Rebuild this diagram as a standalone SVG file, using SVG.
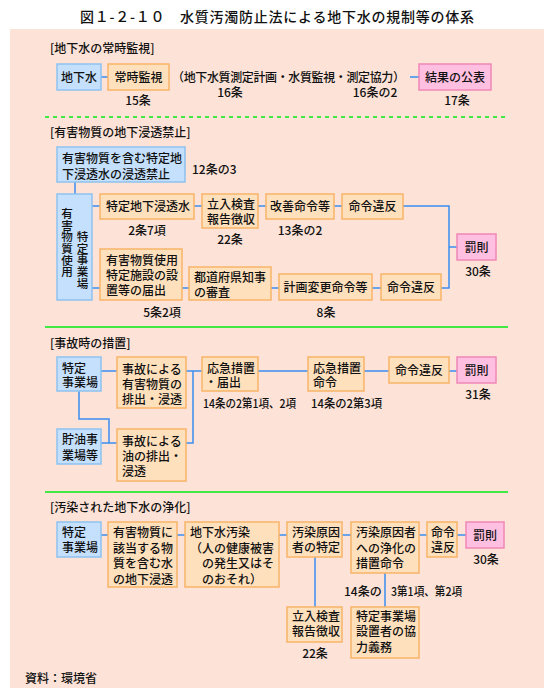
<svg xmlns="http://www.w3.org/2000/svg" width="554" height="699" viewBox="0 0 554 699">
<style>
text{font-family:"Noto Sans CJK JP","Noto Sans CJK SC",sans-serif;font-size:12px;fill:#111;font-weight:500}
.t{font-size:14px}
.m{text-anchor:middle}
.v{writing-mode:vertical-rl;font-size:11.6px}
.b{fill:#c4e0fc;stroke:#8ec2f0;stroke-width:1.5}
.o{fill:#ffe0bc;stroke:#f8b468;stroke-width:1.5}
.p{fill:#ffbfe0;stroke:#f088b8;stroke-width:1.5}
.c{stroke:#3a8ef0;stroke-width:1.5;fill:none}
.g{stroke:#44e844;stroke-width:2;fill:none}
</style>
<rect x="0" y="0" width="554" height="699" fill="#ffffff"/>
<rect x="10" y="29" width="534" height="659" fill="#fde3d7"/>
<text class="t m" x="277" y="22" textLength="394" lengthAdjust="spacing">図１-２-１０　水質汚濁防止法による地下水の規制等の体系</text>

<g id="separators">
<line class="g" x1="45" y1="117" x2="505" y2="117" stroke-dasharray="4,4" stroke-width="1.5"/>
<line class="g" x1="45" y1="327" x2="508" y2="327"/>
<line class="g" x1="45" y1="492" x2="508" y2="492"/>
</g>

<g id="connectors">
<path class="c" d="M101,77H108M410,77H419"/>
<path class="c" d="M75,182V194M92,206H100M92,288H100M194,206H202M258,206H266M334,206H342M403,206H449V288H441M449,247H457M182,288H189M271,288H279M372,288H381"/>
<path class="c" d="M101,371H117M79,391V419H109V443M101,443H117M186,371H202M186,443H193V371M258,371H308M364,371H389M449,371H457"/>
<path class="c" d="M101,535H108M177,535H185M279,535H287M315,557V607M342,535H351M385,573V607M419,535H427M457,535H466"/>
</g>

<g id="labels">
<text x="50" y="52.5">[地下水の常時監視]</text>
<text x="172" y="81.5" textLength="233" lengthAdjust="spacing">（地下水質測定計画・水質監視・測定協力）</text>
<text class="m" x="138" y="104.5">15条</text>
<text class="m" x="230" y="96.5">16条</text>
<text class="m" x="375" y="96.5">16条の2</text>
<text class="m" x="457" y="104.5">17条</text>
<text x="50" y="136.5">[有害物質の地下浸透禁止]</text>
<text x="192" y="173.5">12条の3</text>
<text class="m" x="147" y="234.5">2条7項</text>
<text class="m" x="230" y="243.5">22条</text>
<text class="m" x="300" y="234.5">13条の2</text>
<text class="m" x="478" y="275.5">30条</text>
<text class="m" x="162" y="316.5">5条2項</text>
<text class="m" x="326" y="316.5">8条</text>
<text x="50" y="347.5">[事故時の措置]</text>
<text x="203" y="407.5" textLength="93" lengthAdjust="spacingAndGlyphs">14条の2第1項、2項</text>
<text x="311" y="407.5" textLength="71" lengthAdjust="spacingAndGlyphs">14条の2第3項</text>
<text class="m" x="478" y="398.5">31条</text>
<text x="50" y="511.5">[汚染された地下水の浄化]</text>
<text class="m" x="315" y="657.5">22条</text>
<text x="344" y="595.5">14条の</text>
<text x="391" y="595.5" textLength="71" lengthAdjust="spacingAndGlyphs">3第1項、第2項</text>
<text class="m" x="486" y="563.5">30条</text>
<text x="25" y="682.5">資料：環境省</text>
</g>

<g id="n_chikasui"><rect class="b" x="57" y="64" width="44" height="26"/><text class="m" x="79" y="81.5">地下水</text></g>
<g id="n_joji"><rect class="o" x="108" y="64" width="61" height="26"/><text class="m" x="138.5" y="81.5">常時監視</text></g>
<g id="n_kekka"><rect class="p" x="419" y="64" width="72" height="26"/><text class="m" x="455" y="81.5">結果の公表</text></g>

<g id="n_kinshi"><rect class="b" x="57" y="147" width="128" height="35"/><text x="62" y="162.5">有害物質を含む特定地</text><text x="62" y="178.5">下浸透水の浸透禁止</text></g>
<g id="n_jigyojo"><rect class="b" x="57" y="194" width="35" height="106"/>
<text class="v" x="67" y="208">有害物質使用</text>
<text class="v" x="82.5" y="231">特定事業場</text></g>
<g id="n_shinto"><rect class="o" x="100" y="194" width="94" height="25"/><text x="106" y="210.5">特定地下浸透水</text></g>
<g id="n_tachiiri"><rect class="o" x="202" y="194" width="56" height="34"/><text x="207" y="208.5">立入検査</text><text x="207" y="223.5">報告徴収</text></g>
<g id="n_kaizen"><rect class="o" x="266" y="194" width="68" height="25"/><text class="m" x="300" y="210.5">改善命令等</text></g>
<g id="n_ihan1"><rect class="o" x="342" y="194" width="61" height="25"/><text class="m" x="372.5" y="210.5">命令違反</text></g>
<g id="n_bassoku1"><rect class="p" x="457" y="234" width="39" height="26"/><text class="m" x="476.5" y="251.5">罰則</text></g>
<g id="n_todoke"><rect class="o" x="100" y="249" width="82" height="51"/><text x="106" y="265">有害物質使用</text><text x="106" y="280">特定施設の設</text><text x="106" y="295">置等の届出</text></g>
<g id="n_shinsa"><rect class="o" x="189" y="267" width="82" height="33"/><text x="194" y="281.5">都道府県知事</text><text x="194" y="296.5">の審査</text></g>
<g id="n_keikaku"><rect class="o" x="279" y="274" width="93" height="26"/><text class="m" x="325.5" y="291.5">計画変更命令等</text></g>
<g id="n_ihan2"><rect class="o" x="381" y="274" width="60" height="26"/><text class="m" x="411" y="291.5">命令違反</text></g>

<g id="n_tokutei"><rect class="b" x="57" y="357" width="44" height="34"/><text x="62" y="372.5">特定</text><text x="62" y="386.5">事業場</text></g>
<g id="n_jiko1"><rect class="o" x="117" y="357" width="69" height="51"/><text x="122" y="374">事故による</text><text x="122" y="389">有害物質の</text><text x="122" y="404">排出・浸透</text></g>
<g id="n_choyu"><rect class="b" x="57" y="429" width="44" height="35"/><text x="62" y="444">貯油事</text><text x="62" y="459.5">業場等</text></g>
<g id="n_jiko2"><rect class="o" x="117" y="429" width="69" height="52"/><text x="122" y="446">事故による</text><text x="122" y="461">油の排出・</text><text x="122" y="476">浸透</text></g>
<g id="n_okyu1"><rect class="o" x="202" y="357" width="56" height="34"/><text x="207" y="373">応急措置</text><text x="205" y="387">・届出</text></g>
<g id="n_okyu2"><rect class="o" x="308" y="357" width="56" height="34"/><text x="313" y="373">応急措置</text><text x="313" y="387">命令</text></g>
<g id="n_ihan3"><rect class="o" x="389" y="357" width="60" height="26"/><text class="m" x="419" y="374.5">命令違反</text></g>
<g id="n_bassoku2"><rect class="p" x="457" y="357" width="39" height="26"/><text class="m" x="476.5" y="374.5">罰則</text></g>

<g id="n_tokutei2"><rect class="b" x="57" y="522" width="44" height="35"/><text x="62" y="537">特定</text><text x="62" y="552">事業場</text></g>
<g id="n_shinto2"><rect class="o" x="108" y="522" width="69" height="65"/><text x="113" y="537">有害物質に</text><text x="113" y="552.5">該当する物</text><text x="113" y="568">質を含む水</text><text x="113" y="583.5">の地下浸透</text></g>
<g id="n_osen"><rect class="o" x="185" y="522" width="94" height="65"/><text x="190" y="537">地下水汚染</text><text x="190" y="552.5">（人の健康被害</text><text x="202" y="568">の発生又はそ</text><text x="202" y="583.5">のおそれ）</text></g>
<g id="n_tokutei3"><rect class="o" x="287" y="522" width="55" height="35"/><text x="292" y="537">汚染原因</text><text x="292" y="552">者の特定</text></g>
<g id="n_tachiiri2"><rect class="o" x="287" y="607" width="55" height="35"/><text x="292" y="621">立入検査</text><text x="292" y="636">報告徴収</text></g>
<g id="n_meirei"><rect class="o" x="351" y="522" width="68" height="51"/><text x="356" y="537">汚染原因者</text><text x="356" y="552.5">への浄化の</text><text x="356" y="568">措置命令</text></g>
<g id="n_kyoryoku"><rect class="o" x="351" y="607" width="68" height="51"/><text x="356" y="621">特定事業場</text><text x="356" y="636">設置者の協</text><text x="356" y="652">力義務</text></g>
<g id="n_ihan4"><rect class="o" x="427" y="522" width="30" height="35"/><text x="431" y="537" font-size="11.5">命令</text><text x="431" y="552" font-size="11.5">違反</text></g>
<g id="n_bassoku3"><rect class="p" x="466" y="522" width="38" height="26"/><text class="m" x="485" y="539.5">罰則</text></g>
</svg>
